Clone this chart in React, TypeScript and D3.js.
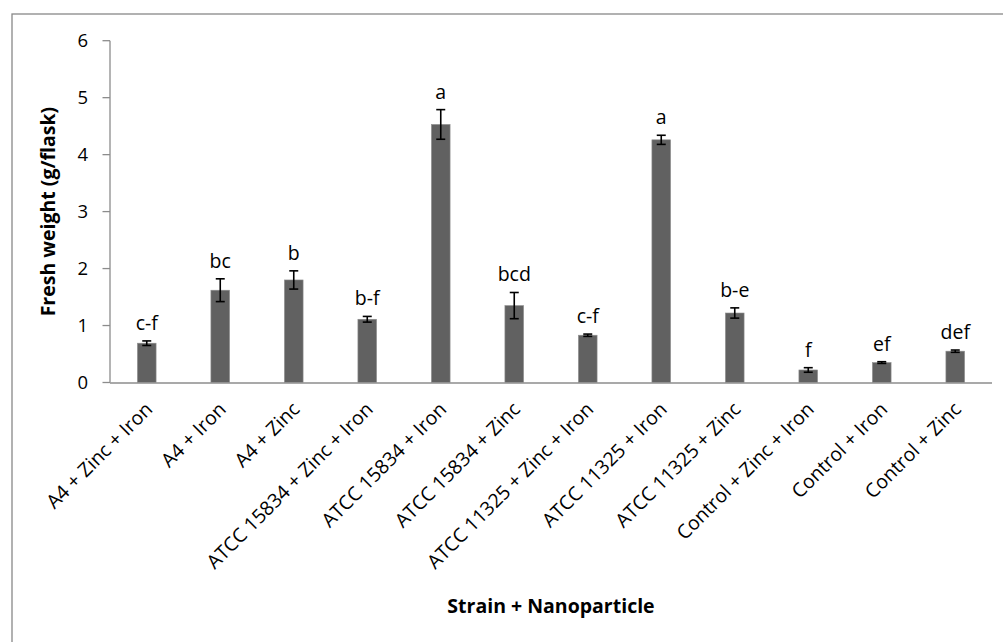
import React from "react";
import * as d3 from "d3";

// Fresh weight per strain + nanoparticle treatment (mean ± SE) with letter groups
const categories = [
  "A4 + Zinc + Iron",
  "A4 + Iron",
  "A4 + Zinc",
  "ATCC 15834 + Zinc + Iron",
  "ATCC 15834 + Iron",
  "ATCC 15834 + Zinc",
  "ATCC 11325 + Zinc + Iron",
  "ATCC 11325 + Iron",
  "ATCC 11325 + Zinc",
  "Control + Zinc + Iron",
  "Control + Iron",
  "Control + Zinc",
];
const means = [0.69, 1.62, 1.8, 1.11, 4.53, 1.35, 0.83, 4.26, 1.22, 0.22, 0.35, 0.55];
const errors = [0.04, 0.2, 0.16, 0.05, 0.26, 0.23, 0.02, 0.08, 0.09, 0.04, 0.015, 0.02];
const letters = ["c-f", "bc", "b", "b-f", "a", "bcd", "c-f", "a", "b-e", "f", "ef", "def"];
const yTicks = [0, 1, 2, 3, 4, 5, 6];
const yTitle = "Fresh weight (g/flask)";
const xTitle = "Strain + Nanoparticle";

const W = 1003;
const H = 642;
const FONT = "'Open Sans', 'Noto Sans', sans-serif";
const AXIS = "#8c8c8c";
const FS = 19.5;

export default function App() {
  const left = 110;
  const right = 992;
  const top = 40.7;
  const bottom = 382.5;

  const x = d3
    .scaleBand<string>()
    .domain(categories)
    .range([left, right])
    .paddingInner(0.746)
    .paddingOuter(0.373);
  const y = d3.scaleLinear().domain([0, 6]).range([bottom, top]);
  const bw = x.bandwidth();
  const cap = 4.5;

  return (
    <svg
      width={W}
      height={H}
      style={{ position: "absolute", left: 0, top: 0, background: "#fff" }}
      fontFamily={FONT}
    >
      {/* chart area frame */}
      <rect x={12} y={14} width={1020} height={660} fill="#fff" stroke="#888" strokeWidth={1.3} />

      {/* y axis with outward ticks */}
      <line x1={left} x2={left} y1={top} y2={bottom} stroke={AXIS} strokeWidth={1.3} />
      {yTicks.map((t) => (
        <g key={t}>
          <line x1={left - 7.5} x2={left} y1={y(t)} y2={y(t)} stroke={AXIS} strokeWidth={1.3} />
          <text x={88} y={y(t)} dy="0.36em" textAnchor="end" fontSize={FS - 1} fill="#000">
            {t}
          </text>
        </g>
      ))}

      {/* bars */}
      {categories.map((c, i) => (
        <rect
          key={c}
          x={x(c)}
          y={y(means[i])}
          width={bw}
          height={bottom - y(means[i])}
          fill="#616161"
          stroke="#8f8f8f"
          strokeWidth={0.6}
        />
      ))}

      {/* x axis line */}
      <line x1={left} x2={right} y1={bottom + 0.5} y2={bottom + 0.5} stroke={AXIS} strokeWidth={1.3} />

      {/* error bars */}
      {categories.map((c, i) => {
        const cx = (x(c) as number) + bw / 2;
        const hi = y(means[i] + errors[i]);
        const lo = y(means[i] - errors[i]);
        return (
          <g key={c} stroke="#000" strokeWidth={1.6}>
            <line x1={cx} x2={cx} y1={hi} y2={lo} />
            <line x1={cx - cap} x2={cx + cap} y1={hi} y2={hi} />
            <line x1={cx - cap} x2={cx + cap} y1={lo} y2={lo} />
          </g>
        );
      })}

      {/* significance letters */}
      {categories.map((c, i) => (
        <text
          key={c}
          x={(x(c) as number) + bw / 2}
          y={y(means[i] + errors[i]) - 11}
          textAnchor="middle"
          fontSize={FS}
          fill="#000"
        >
          {letters[i]}
        </text>
      ))}

      {/* rotated category labels */}
      {categories.map((c) => {
        const cx = (x(c) as number) + bw / 2;
        const ax = cx + 7;
        const ay = bottom + 28;
        return (
          <text
            key={c}
            transform={`translate(${ax},${ay}) rotate(-45)`}
            textAnchor="end"
            fontSize={FS}
            fill="#000"
          >
            {c}
          </text>
        );
      })}

      {/* axis titles */}
      <text
        transform={`translate(55,${(top + bottom) / 2}) rotate(-90)`}
        textAnchor="middle"
        fontSize={FS}
        fontWeight="bold"
        fill="#000"
      >
        {yTitle}
      </text>
      <text
        x={(left + right) / 2}
        y={613}
        textAnchor="middle"
        fontSize={FS}
        fontWeight="bold"
        fill="#000"
      >
        {xTitle}
      </text>
    </svg>
  );
}
